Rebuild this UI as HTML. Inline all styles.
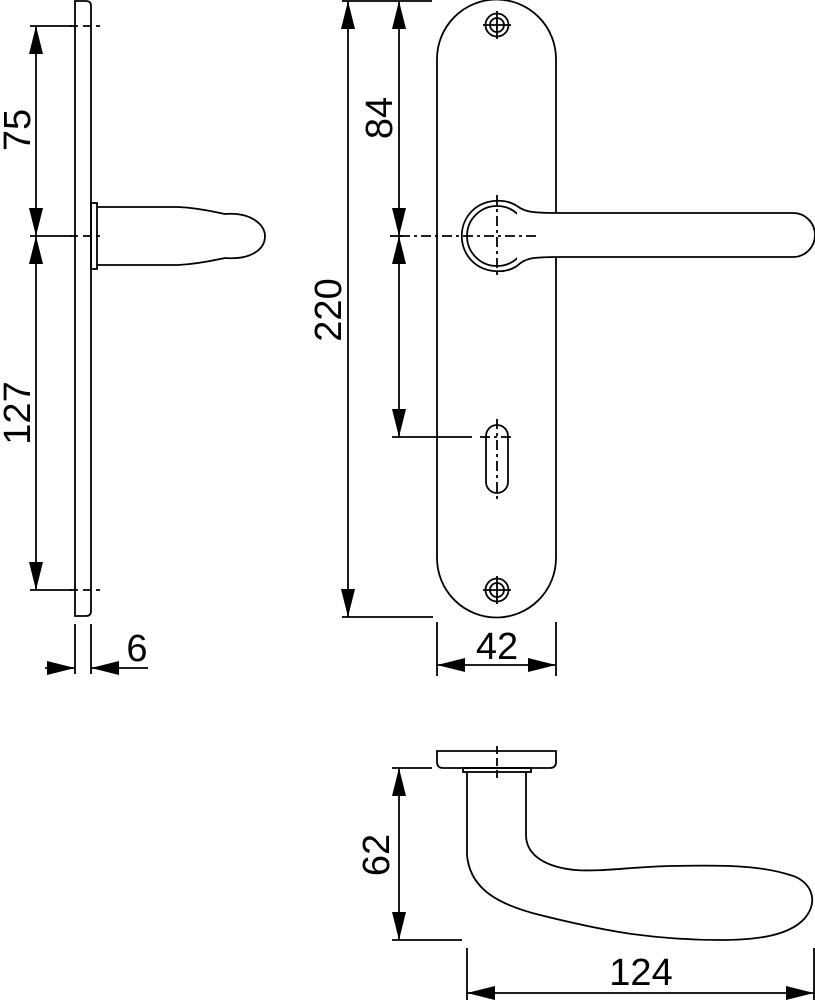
<!DOCTYPE html>
<html><head><meta charset="utf-8"><style>
html,body{margin:0;padding:0;background:#fff;}
svg{display:block;}
text{font-family:"Liberation Sans",sans-serif;font-size:38px;fill:#000;}
</style></head><body>
<svg width="815" height="1000" viewBox="0 0 815 1000" xmlns="http://www.w3.org/2000/svg">
<defs>
<marker id="a" markerUnits="userSpaceOnUse" markerWidth="28" markerHeight="14" refX="28" refY="7" orient="auto-start-reverse" viewBox="0 0 28 14">
<path d="M0,0 L28,7 L0,14 Z" fill="#000"/></marker>
</defs>
<g fill="none" stroke="#000" stroke-width="1.8">
<!-- LEFT SIDE VIEW -->
<path d="M75,1 H86 Q91,1 91,6 V611 Q91,616 86,616 H75 Z"/>
<rect x="91" y="203" width="6" height="66"/>
<path d="M97,207 H178 C200,208 215,212 225,214 C250,212 265,224 265,236 C265,250 250,260 225,258 C215,260 200,264 178,265 H97"/>
<line x1="30" y1="26" x2="72" y2="26"/>
<line x1="30" y1="236" x2="72" y2="236"/>
<line x1="30" y1="590" x2="72" y2="590"/>
<path d="M70,26 H100 M70,236 H100 M70,590 H100" stroke-dasharray="8,5"/>
<line x1="36" y1="26" x2="36" y2="236" marker-start="url(#a)" marker-end="url(#a)"/>
<line x1="36" y1="236" x2="36" y2="590" marker-start="url(#a)" marker-end="url(#a)"/>
<line x1="75" y1="624" x2="75" y2="674"/>
<line x1="91" y1="624" x2="91" y2="674"/>
<line x1="45" y1="668" x2="75" y2="668" marker-end="url(#a)"/>
<line x1="148" y1="668" x2="91" y2="668" marker-end="url(#a)"/>

<!-- FRONT VIEW -->
<path d="M437,59 A59.5,59.5 0 0 1 556,59 V558 A59.5,59.5 0 0 1 437,558 Z"/>
<circle cx="497" cy="25" r="11.5"/><circle cx="497" cy="25" r="7"/>
<path d="M483,25 H511 M497,11 V39"/>
<circle cx="497" cy="590" r="11.5"/><circle cx="497" cy="590" r="7"/>
<path d="M483,590 H511 M497,576 V604"/>
<circle cx="497" cy="236" r="30"/>
<path d="M517,206 C505,198 485,199 473,210 C458,224 458,248 473,262 C485,273 505,274 517,266"/>
<path d="M517,206 C525,212 532,213 560,213 H793 A22,22 0 0 1 793,257 H560 C532,257 525,258 517,266" fill="#fff"/>
<path d="M400,236 H540 M497,195 V277" stroke-dasharray="10,4,3,4"/>
<rect x="486" y="425" width="22" height="68" rx="11"/>
<path d="M480,437 H514 M497,419 V500" stroke-dasharray="10,4,3,4"/>
<line x1="342" y1="1" x2="432" y2="1"/>
<line x1="342" y1="617" x2="433" y2="617"/>
<line x1="392" y1="437" x2="472" y2="437"/>
<line x1="390" y1="236" x2="402" y2="236"/>
<line x1="348" y1="1" x2="348" y2="617" marker-start="url(#a)" marker-end="url(#a)"/>
<line x1="399" y1="1" x2="399" y2="236" marker-start="url(#a)" marker-end="url(#a)"/>
<line x1="399" y1="236" x2="399" y2="437" marker-start="url(#a)" marker-end="url(#a)"/>
<line x1="437" y1="622" x2="437" y2="676"/>
<line x1="556" y1="622" x2="556" y2="676"/>
<line x1="437" y1="665" x2="556" y2="665" marker-start="url(#a)" marker-end="url(#a)"/>

<!-- BOTTOM VIEW -->
<path d="M437,751 H556 V762 Q556,768 550,768 H443 Q437,768 437,762 Z"/>
<rect x="463" y="768" width="68" height="4"/>
<path d="M497,746 V780" stroke-dasharray="8,4"/>
<path d="M467,772 V855 C470,890 500,905 540,915 C600,930 650,940 720,940 C760,940 790,935 805,918 C820,900 810,880 790,875 C760,865 720,865 670,866 C630,867 600,872 575,870 C545,867 526,855 526,835 V772"/>
<line x1="392" y1="768" x2="432" y2="768"/>
<line x1="392" y1="940" x2="462" y2="940"/>
<line x1="399" y1="768" x2="399" y2="940" marker-start="url(#a)" marker-end="url(#a)"/>
<line x1="467" y1="948" x2="467" y2="1000"/>
<line x1="814" y1="948" x2="814" y2="1000"/>
<line x1="467" y1="993" x2="814" y2="993" marker-start="url(#a)" marker-end="url(#a)"/>
</g>
<g>
<text transform="translate(30,130) rotate(-90)" text-anchor="middle">75</text>
<text transform="translate(30,413) rotate(-90)" text-anchor="middle">127</text>
<text x="137" y="661" text-anchor="middle">6</text>
<text transform="translate(341,310) rotate(-90)" text-anchor="middle">220</text>
<text transform="translate(392,118) rotate(-90)" text-anchor="middle">84</text>
<text x="497" y="659" text-anchor="middle">42</text>
<text transform="translate(389,855) rotate(-90)" text-anchor="middle">62</text>
<text x="641" y="985" text-anchor="middle">124</text>
</g>
</svg>
</body></html>
